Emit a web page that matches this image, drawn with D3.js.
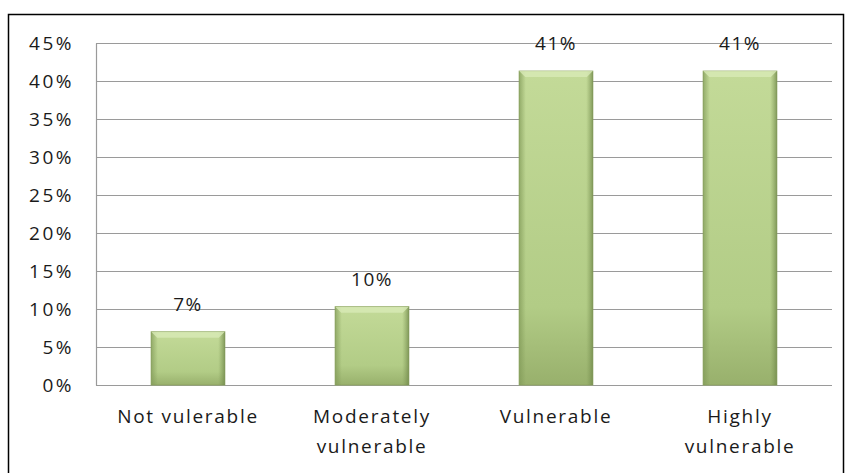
<!DOCTYPE html>
<html>
<head>
<meta charset="utf-8">
<script src="https://cdn.jsdelivr.net/npm/d3@7"></script>
<style>
  body { margin: 0; background: #fff; }
  text { font-family: "Open Sans", "Noto Sans", sans-serif; fill: #1a1a1a; }
</style>
</head>
<body>
<svg id="chart" width="845" height="473"></svg>
<script>
// chart data
const categories = ["Not vulerable", "Moderately\nvulnerable", "Vulnerable", "Highly\nvulnerable"];
const values = [7, 10.3, 41.3, 41.3];
const valueLabels = ["7%", "10%", "41%", "41%"];
const yTicks = [0, 5, 10, 15, 20, 25, 30, 35, 40, 45];

const margin = {top: 43, right: 13, bottom: 88, left: 96};
const W = 845, H = 473;

const svg = d3.select("#chart");

// outer frame (bottom is cut off in the picture)
svg.append("rect")
    .attr("x", 8.5).attr("y", 14.5)
    .attr("width", 835).attr("height", 470)
    .attr("fill", "none")
    .attr("stroke", "#000")
    .attr("stroke-width", 1.5);

const x = d3.scaleBand()
    .domain(categories)
    .range([margin.left, W - margin.right])
    .paddingInner(0.6)
    .paddingOuter(0.3);

const y = d3.scaleLinear()
    .domain([0, 45])
    .range([H - margin.bottom, margin.top]);

// gradients for the bevelled bars
const defs = svg.append("defs");
const g1 = defs.append("linearGradient").attr("id", "barFill")
    .attr("x1", 0).attr("y1", 0).attr("x2", 0).attr("y2", 1);
g1.append("stop").attr("offset", "0%").attr("stop-color", "#c3da98");
g1.append("stop").attr("offset", "75%").attr("stop-color", "#b2cc86");
g1.append("stop").attr("offset", "100%").attr("stop-color", "#98b06c");

const g2 = defs.append("linearGradient").attr("id", "barSide")
    .attr("x1", 0).attr("y1", 0).attr("x2", 1).attr("y2", 0);
g2.append("stop").attr("offset", "0%").attr("stop-color", "#7f9856").attr("stop-opacity", 0.7);
g2.append("stop").attr("offset", "9%").attr("stop-color", "#7f9856").attr("stop-opacity", 0);
g2.append("stop").attr("offset", "91%").attr("stop-color", "#7f9856").attr("stop-opacity", 0);
g2.append("stop").attr("offset", "100%").attr("stop-color", "#6e8648").attr("stop-opacity", 0.75);

// gridlines
svg.append("g")
  .selectAll("line")
  .data(yTicks)
  .join("line")
    .attr("x1", margin.left).attr("x2", W - margin.right)
    .attr("y1", d => Math.round(y(d)) + 0.5)
    .attr("y2", d => Math.round(y(d)) + 0.5)
    .attr("stroke", "#9a9a9a")
    .attr("stroke-width", 1.2);

// y axis
const yAxis = svg.append("g")
    .attr("transform", `translate(${margin.left},0)`)
    .call(d3.axisLeft(y).tickValues(yTicks).tickFormat(d => d + "%").tickSize(0).tickPadding(22));
yAxis.select(".domain").attr("stroke", "#9a9a9a").attr("stroke-width", 1.2);
yAxis.selectAll("text")
    .style("font-size", "19px")
    .style("letter-spacing", "2.5px")
    .attr("fill", "#1a1a1a");

// bars
const bars = svg.append("g").selectAll("g")
  .data(values)
  .join("g");

bars.append("rect")
    .attr("x", (d, i) => x(categories[i]))
    .attr("y", d => y(d))
    .attr("width", x.bandwidth())
    .attr("height", d => y(0) - y(d))
    .attr("fill", "url(#barFill)")
    .attr("stroke", "#8ea562")
    .attr("stroke-width", 1);

bars.append("rect")
    .attr("x", (d, i) => x(categories[i]))
    .attr("y", d => y(d))
    .attr("width", x.bandwidth())
    .attr("height", d => y(0) - y(d))
    .attr("fill", "url(#barSide)");

// top bevel
bars.append("path")
    .attr("d", (d, i) => {
      const x0 = x(categories[i]), x1 = x0 + x.bandwidth(), t = y(d), b = 6;
      return `M${x0},${t}L${x1},${t}L${x1 - b},${t + b}L${x0 + b},${t + b}Z`;
    })
    .attr("fill", "#d8eab6")
    .attr("opacity", 0.8);

// value labels
svg.append("g").selectAll("text")
  .data(values)
  .join("text")
    .attr("x", (d, i) => x(categories[i]) + x.bandwidth() / 2)
    .attr("y", d => y(d) - 21)
    .attr("text-anchor", "middle")
    .style("font-size", "19px")
    .style("letter-spacing", "1.5px")
    .text((d, i) => valueLabels[i]);

// x labels
svg.append("g").selectAll("text")
  .data(categories)
  .join("text")
    .attr("x", d => x(d) + x.bandwidth() / 2)
    .attr("y", y(0) + 38)
    .attr("text-anchor", "middle")
    .style("font-size", "19px")
    .style("letter-spacing", "1.7px")
    .each(function(d) {
      const lines = d.split("\n");
      d3.select(this).selectAll("tspan")
        .data(lines)
        .join("tspan")
          .attr("x", x(d) + x.bandwidth() / 2)
          .attr("dy", (l, j) => j ? 30 : 0)
          .text(l => l);
    });
</script>
</body>
</html>
